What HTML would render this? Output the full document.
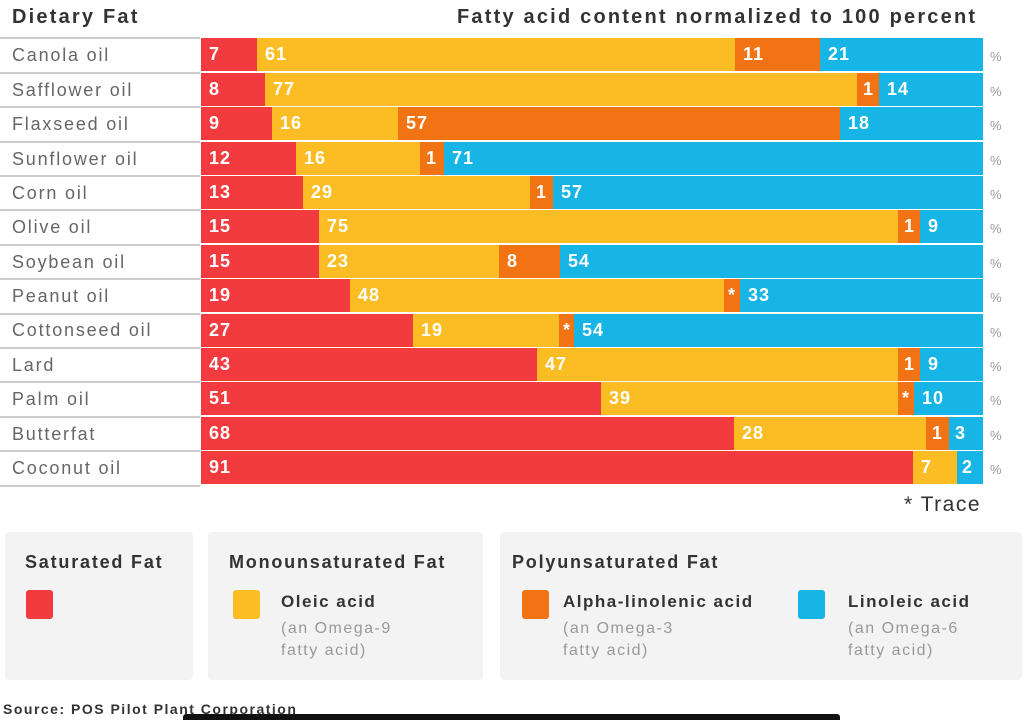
<!DOCTYPE html>
<html><head><meta charset="utf-8"><style>
body{margin:0;width:1024px;height:720px;background:#fff;position:relative;overflow:hidden;font-family:"Liberation Sans",sans-serif;letter-spacing:1.5px;}
.a{position:absolute;}
.t{font-weight:bold;color:#333;}
.lab{position:absolute;left:12px;font-size:18px;color:#666;letter-spacing:1.8px;}
.sep{position:absolute;left:0;width:200px;height:2px;background:#ccc;}
.row{position:absolute;left:201px;width:782px;height:33px;}
.s{position:absolute;top:0;height:33px;color:#fff;font-weight:bold;font-size:18px;line-height:33px;padding-left:8px;box-sizing:border-box;overflow:hidden;white-space:nowrap;letter-spacing:1px;}
.r{background:#f23b3f}.y{background:#fbbd23}.o{background:#f17314}.b{background:#16b5e6}
.pc{position:absolute;left:990px;font-size:13px;color:#999;}
.box{position:absolute;top:532px;height:148px;background:#f3f3f3;border-radius:4px;}
.h{position:absolute;top:20px;font-size:18px;font-weight:bold;color:#333;letter-spacing:1.8px;}
.sw{position:absolute;top:58px;width:27px;height:29px;border-radius:3px;}
.n{position:absolute;top:60px;font-size:17px;font-weight:bold;color:#333;}
.g{position:absolute;top:86px;font-size:16px;color:#999;line-height:22px;}
</style></head><body>
<div class="a t" style="left:12px;top:6px;font-size:20px;letter-spacing:2.2px;">Dietary Fat</div>
<div class="a t" style="left:457px;top:6px;font-size:20px;letter-spacing:2.2px;">Fatty acid content normalized to 100 percent</div>

<div class="sep" style="top:37px"></div>
<div class="lab" style="top:45px">Canola oil</div><div class="sep" style="top:72px"></div>
<div class="lab" style="top:80px">Safflower oil</div><div class="sep" style="top:106px"></div>
<div class="lab" style="top:114px">Flaxseed oil</div><div class="sep" style="top:141px"></div>
<div class="lab" style="top:149px">Sunflower oil</div><div class="sep" style="top:175px"></div>
<div class="lab" style="top:183px">Corn oil</div><div class="sep" style="top:209px"></div>
<div class="lab" style="top:217px">Olive oil</div><div class="sep" style="top:244px"></div>
<div class="lab" style="top:252px">Soybean oil</div><div class="sep" style="top:278px"></div>
<div class="lab" style="top:286px">Peanut oil</div><div class="sep" style="top:313px"></div>
<div class="lab" style="top:320px">Cottonseed oil</div><div class="sep" style="top:347px"></div>
<div class="lab" style="top:355px">Lard</div><div class="sep" style="top:381px"></div>
<div class="lab" style="top:389px">Palm oil</div><div class="sep" style="top:416px"></div>
<div class="lab" style="top:424px">Butterfat</div><div class="sep" style="top:450px"></div>
<div class="lab" style="top:458px">Coconut oil</div><div class="sep" style="top:485px"></div>

<div class="row" style="top:38px"><div class="s r" style="left:0;width:56px">7</div><div class="s y" style="left:56px;width:478px">61</div><div class="s o" style="left:534px;width:85px">11</div><div class="s b" style="left:619px;width:163px">21</div></div>
<div class="row" style="top:73px"><div class="s r" style="left:0;width:64px">8</div><div class="s y" style="left:64px;width:592px">77</div><div class="s o" style="left:656px;width:22px;padding-left:6px">1</div><div class="s b" style="left:678px;width:104px">14</div></div>
<div class="row" style="top:107px"><div class="s r" style="left:0;width:71px">9</div><div class="s y" style="left:71px;width:126px">16</div><div class="s o" style="left:197px;width:442px">57</div><div class="s b" style="left:639px;width:143px">18</div></div>
<div class="row" style="top:142px"><div class="s r" style="left:0;width:95px">12</div><div class="s y" style="left:95px;width:124px">16</div><div class="s o" style="left:219px;width:24px;padding-left:6px">1</div><div class="s b" style="left:243px;width:539px">71</div></div>
<div class="row" style="top:176px"><div class="s r" style="left:0;width:102px">13</div><div class="s y" style="left:102px;width:227px">29</div><div class="s o" style="left:329px;width:23px;padding-left:6px">1</div><div class="s b" style="left:352px;width:430px">57</div></div>
<div class="row" style="top:210px"><div class="s r" style="left:0;width:118px">15</div><div class="s y" style="left:118px;width:579px">75</div><div class="s o" style="left:697px;width:22px;padding-left:6px">1</div><div class="s b" style="left:719px;width:63px">9</div></div>
<div class="row" style="top:245px"><div class="s r" style="left:0;width:118px">15</div><div class="s y" style="left:118px;width:180px">23</div><div class="s o" style="left:298px;width:61px">8</div><div class="s b" style="left:359px;width:423px">54</div></div>
<div class="row" style="top:279px"><div class="s r" style="left:0;width:149px">19</div><div class="s y" style="left:149px;width:374px">48</div><div class="s o" style="left:523px;width:16px;padding-left:4px">*</div><div class="s b" style="left:539px;width:243px">33</div></div>
<div class="row" style="top:314px"><div class="s r" style="left:0;width:212px">27</div><div class="s y" style="left:212px;width:146px">19</div><div class="s o" style="left:358px;width:15px;padding-left:4px">*</div><div class="s b" style="left:373px;width:409px">54</div></div>
<div class="row" style="top:348px"><div class="s r" style="left:0;width:336px">43</div><div class="s y" style="left:336px;width:361px">47</div><div class="s o" style="left:697px;width:22px;padding-left:6px">1</div><div class="s b" style="left:719px;width:63px">9</div></div>
<div class="row" style="top:382px"><div class="s r" style="left:0;width:400px">51</div><div class="s y" style="left:400px;width:297px">39</div><div class="s o" style="left:697px;width:16px;padding-left:4px">*</div><div class="s b" style="left:713px;width:69px">10</div></div>
<div class="row" style="top:417px"><div class="s r" style="left:0;width:533px">68</div><div class="s y" style="left:533px;width:192px">28</div><div class="s o" style="left:725px;width:23px;padding-left:6px">1</div><div class="s b" style="left:748px;width:34px;padding-left:6px">3</div></div>
<div class="row" style="top:451px"><div class="s r" style="left:0;width:712px">91</div><div class="s y" style="left:712px;width:44px">7</div><div class="s b" style="left:756px;width:26px;padding-left:5px">2</div></div>

<div class="pc" style="top:49px">%</div><div class="pc" style="top:84px">%</div><div class="pc" style="top:118px">%</div><div class="pc" style="top:153px">%</div><div class="pc" style="top:187px">%</div><div class="pc" style="top:221px">%</div><div class="pc" style="top:256px">%</div><div class="pc" style="top:290px">%</div><div class="pc" style="top:325px">%</div><div class="pc" style="top:359px">%</div><div class="pc" style="top:393px">%</div><div class="pc" style="top:428px">%</div><div class="pc" style="top:462px">%</div>

<div class="a" style="left:904px;top:493px;font-size:21px;color:#333;letter-spacing:1.5px;">* Trace</div>

<div class="box" style="left:5px;width:188px"><div class="h" style="left:20px">Saturated Fat</div><div class="sw r" style="left:21px"></div></div>
<div class="box" style="left:208px;width:275px"><div class="h" style="left:21px">Monounsaturated Fat</div><div class="sw y" style="left:25px"></div><div class="n" style="left:73px">Oleic acid</div><div class="g" style="left:73px">(an Omega-9<br>fatty acid)</div></div>
<div class="box" style="left:500px;width:522px"><div class="h" style="left:12px">Polyunsaturated Fat</div><div class="sw o" style="left:22px"></div><div class="n" style="left:63px">Alpha-linolenic acid</div><div class="g" style="left:63px">(an Omega-3<br>fatty acid)</div><div class="sw b" style="left:298px"></div><div class="n" style="left:348px">Linoleic acid</div><div class="g" style="left:348px">(an Omega-6<br>fatty acid)</div></div>

<div class="a t" style="left:3px;top:701px;font-size:14px;letter-spacing:1.5px;">Source: POS Pilot Plant Corporation</div>
<div class="a" style="left:183px;top:714px;width:657px;height:6px;background:#111;border-radius:3px 3px 0 0;"></div>
</body></html>
